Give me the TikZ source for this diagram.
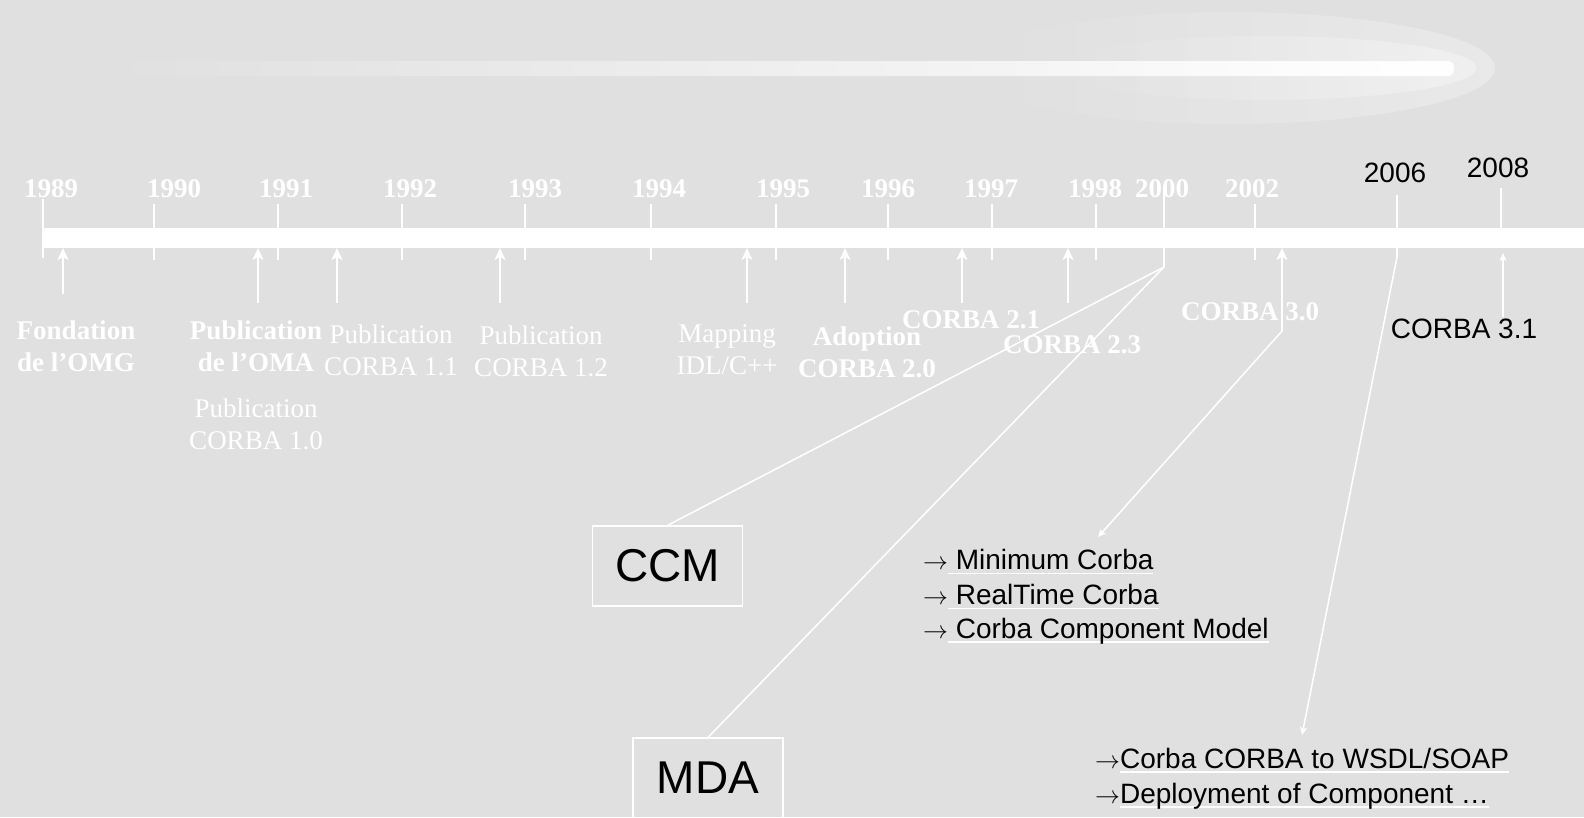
\documentclass[tikz,border=0pt]{standalone}
\usepackage{fontspec}
\setmainfont{Liberation Serif}
\newfontfamily\arialf{Liberation Sans}
\usetikzlibrary{arrows.meta,fadings}

\definecolor{fondgris}{RGB}{224,224,224}
\tikzfading[name=glowfade, left color=transparent!100, right color=transparent!0]

% white underline under black text
\newcommand{\soulign}[1]{\setbox0\hbox{#1}\rlap{\color{white}\rule[-4.5pt]{\wd0}{1.4pt}}\box0}

\begin{document}
\begin{tikzpicture}[x=1pt, y=-1pt,
  year/.style={text=white, font=\fontsize{27}{32}\selectfont\bfseries, inner sep=0pt, anchor=base},
  newyear/.style={text=black, font=\arialf\fontsize{28}{32}\selectfont, inner sep=0pt, anchor=base},
  event/.style={text=white, font=\fontsize{27}{32}\selectfont, align=center, inner sep=0pt},
  bevent/.style={event, font=\fontsize{27}{32}\selectfont\bfseries},
  tick/.style={draw=white, line width=1.5pt},
  link/.style={draw=white, line width=1.5pt},
  arrow/.style={link, -{Stealth[length=12pt, width=11pt, inset=3pt]}},
  smallarrow/.style={link, -{Stealth[length=8pt, width=7pt, inset=2pt]}},
  techbox/.style={draw=white, line width=1.2pt, minimum width=150pt, minimum height=80pt, font=\arialf\fontsize{46}{50}\selectfont, text=black, inner sep=0pt},
  item/.style={font=\arialf\fontsize{28}{32}\selectfont, text=black, inner sep=0pt, anchor=base west}
]
\useasboundingbox (0,0) rectangle (1584,817);
\fill[fondgris] (0,0) rectangle (1584,817);
\clip (0,0) rectangle (1584,817);

% glow at the top
\fill[white, opacity=0.3, path fading=glowfade] (1230,68) ellipse [x radius=265, y radius=56];
\fill[white, opacity=0.35, path fading=glowfade] (1265,68) ellipse [x radius=212, y radius=32];
\fill[white, rounded corners=6pt, path fading=glowfade] (90,61) rectangle (1455,76);

% time line
\coordinate (bar) at (0,248);
\draw[white, line width=20pt] (42,238) -- (1600,238);

\draw[tick] (43,199) -- (43,258);
\draw[tick] (154,204) -- (154,260);
\draw[tick] (278,204) -- (278,260);
\draw[tick] (402,204) -- (402,260);
\draw[tick] (525,204) -- (525,260);
\draw[tick] (651,204) -- (651,260);
\draw[tick] (776,204) -- (776,260);
\draw[tick] (888,204) -- (888,260);
\draw[tick] (992,204) -- (992,260);
\draw[tick] (1096,204) -- (1096,260);
\draw[tick] (1255,204) -- (1255,260);
\draw[tick] (1501,188) -- (1501,240);

\node[year] (y1989) at (51,197) {1989};
\node[year] (y1990) at (174,197) {1990};
\node[year] (y1991) at (286,197) {1991};
\node[year] (y1992) at (410,197) {1992};
\node[year] (y1993) at (535,197) {1993};
\node[year] (y1994) at (659,197) {1994};
\node[year] (y1995) at (783,197) {1995};
\node[year] (y1996) at (888,197) {1996};
\node[year] (y1997) at (991,197) {1997};
\node[year] (y1998) at (1095,197) {1998};
\node[year] (y2000) at (1162,197) {2000};
\node[year] (y2002) at (1252,197) {2002};
\node[newyear] (y2006) at (1395,182) {2006};
\node[newyear] (y2008) at (1498,177) {2008};

% events
\node[bevent] (fond) at (76,346) {Fondation\\de l'OMG};
\node[bevent] (oma) at (256,346) {Publication\\de l'OMA};
\node[event] (c10) at (256,424) {Publication\\CORBA 1.0};
\node[event] (c11) at (391,350) {Publication\\CORBA 1.1};
\node[event] (c12) at (541,351) {Publication\\CORBA 1.2};
\node[event] (idl) at (727,350) {Mapping\\IDL/C++};
\node[bevent] (c20) at (867,352) {Adoption\\CORBA 2.0};
\node[bevent] (c21) at (971,320) {CORBA 2.1};
\node[bevent] (c23) at (1072,345) {CORBA 2.3};
\node[bevent] (c30) at (1250,312) {CORBA 3.0};
\node[newyear] (c31) at (1464,338) {CORBA 3.1};

\coordinate (ffond) at (63,294);
\coordinate (foma) at (258,303);
\coordinate (fc11) at (337,303);
\coordinate (fc12) at (500,303);
\coordinate (fidl) at (747,303);
\coordinate (fc20) at (845,303);
\coordinate (fc21) at (962,303);
\coordinate (fc23) at (1068,303);
\coordinate (fc30) at (1282,331);
\coordinate (fc31) at (1503,317);

\draw[arrow] (ffond) -- (ffond |- bar);
\draw[arrow] (foma) -- (foma |- bar);
\draw[arrow] (fc11) -- (fc11 |- bar);
\draw[arrow] (fc12) -- (fc12 |- bar);
\draw[arrow] (fidl) -- (fidl |- bar);
\draw[arrow] (fc20) -- (fc20 |- bar);
\draw[arrow] (fc21) -- (fc21 |- bar);
\draw[arrow] (fc23) -- (fc23 |- bar);
\draw[arrow] (fc30) -- (fc30 |- bar);
\draw[smallarrow] (fc31) -- (1503,253);

% CCM and MDA
\node[techbox] (ccm) at (667.5,566) {CCM};
\node[techbox] (mda) at (708,778) {MDA};

\coordinate (t2000) at (1164,187);
\coordinate (k2000) at (1164,267);
\draw[tick] (t2000) -- (k2000);
\draw[link] (k2000) -- (ccm.north);
\draw[link] (k2000) -- (mda.north);

% CORBA 3.0 content
\node[item] (l1) at (923,569.5) {$\rightarrow$\soulign{~Minimum Corba}};
\node[item] (l2) at (923,604.5) {$\rightarrow$\soulign{~RealTime Corba}};
\node[item] (l3) at (923,638) {$\rightarrow$\soulign{~Corba Component Model}};
\coordinate (e30) at (1098,537);
\draw[smallarrow] (fc30) -- (e30);

% 2006 content
\node[item] (w1) at (1095,768) {$\rightarrow$\soulign{Corba CORBA to WSDL/SOAP}};
\node[item] (w2) at (1095,803) {$\rightarrow$\soulign{Deployment of Component …}};
\coordinate (t2006) at (1397,195);
\coordinate (k2006) at (1397,257);
\coordinate (e06) at (1302,735);
\draw[tick] (t2006) -- (k2006);
\draw[smallarrow] (k2006) -- (e06);
\end{tikzpicture}
\end{document}
